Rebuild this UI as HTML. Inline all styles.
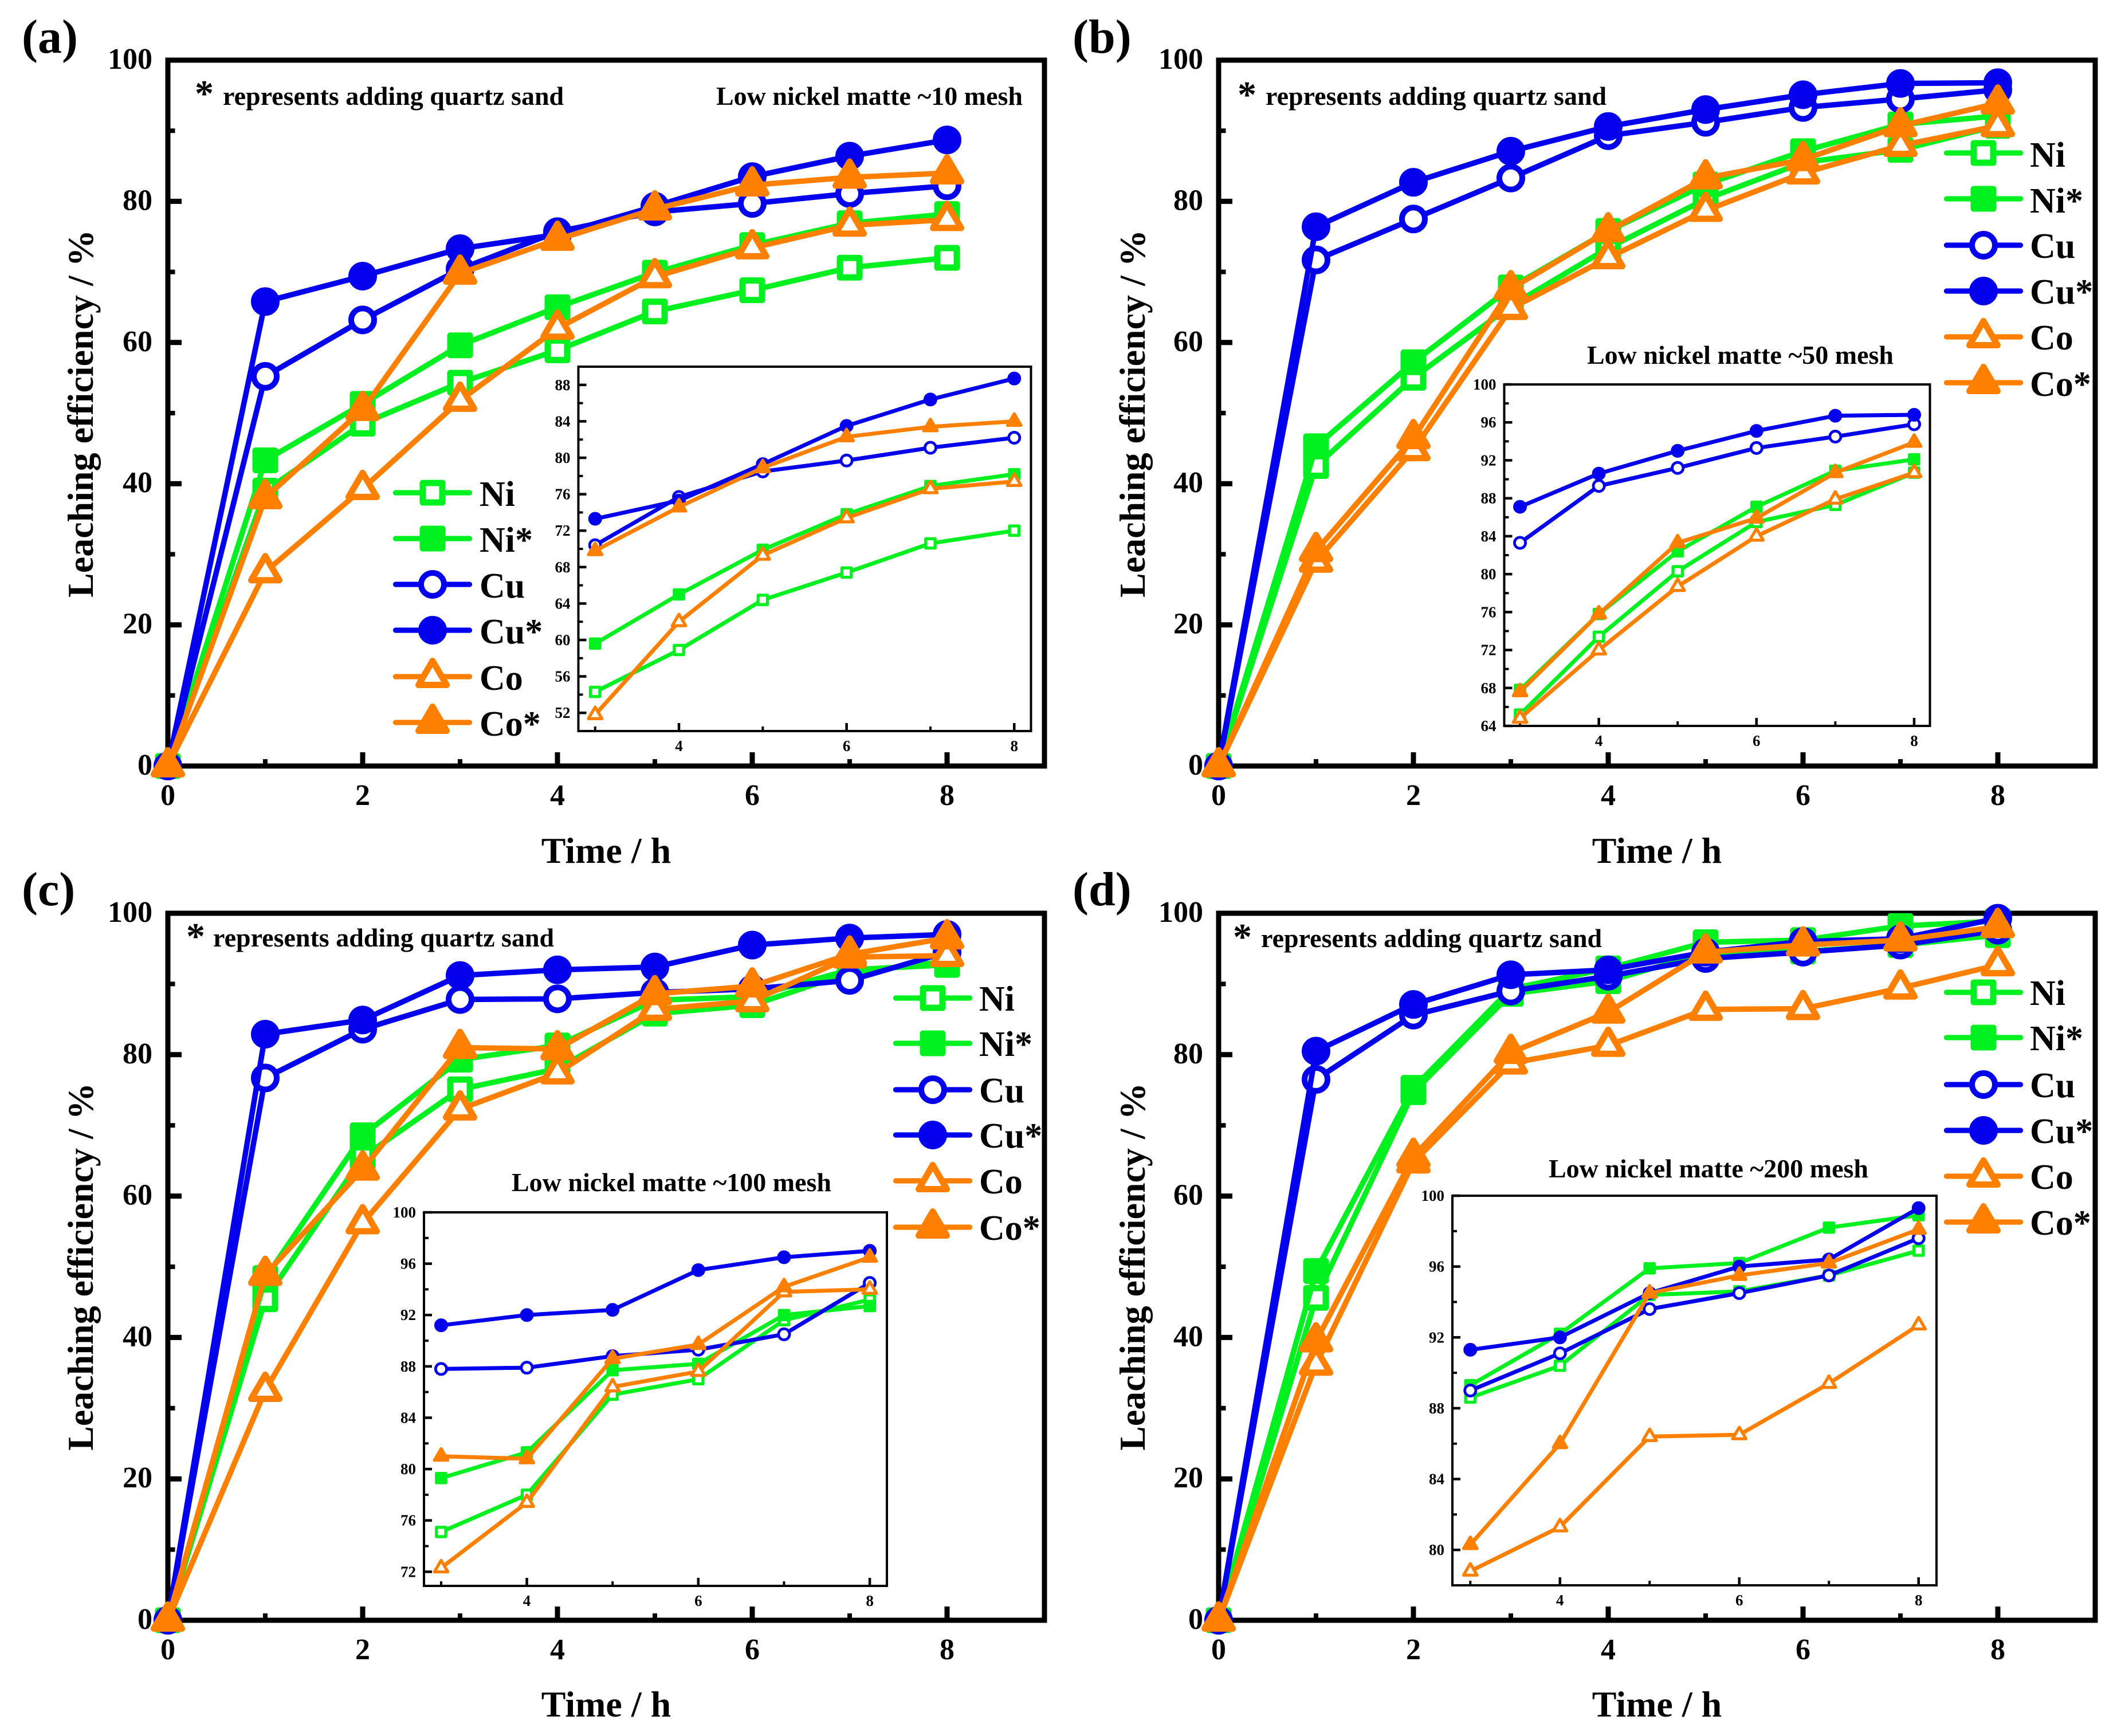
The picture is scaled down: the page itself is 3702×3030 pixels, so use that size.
<!DOCTYPE html>
<html lang="en">
<head>
<meta charset="utf-8">
<title>Leaching efficiency of low nickel matte</title>
<style>
html,body{margin:0;padding:0;background:#fff;}
svg{display:block;}
text{font-family:"Liberation Serif","DejaVu Serif",serif;font-weight:bold;fill:#000;}
.title{font-size:64px;}
.legend{font-size:62px;}
.note{font-size:46px;}
.star{font-size:66px;}
.letter{font-size:84px;}
</style>
</head>
<body>
<svg xmlns="http://www.w3.org/2000/svg" width="3702" height="3030" viewBox="0 0 3702 3030">
<rect x="0" y="0" width="3702" height="3030" fill="#fff"/>

<g id="panel-a">
<g id="plot-a"></g>
<text class="letter" x="38" y="92">(a)</text>
<text class="title" x="1058" y="1506" text-anchor="middle">Time / h</text>
<text class="title" x="162" y="722" text-anchor="middle" transform="rotate(-90 162 722)">Leaching efficiency / %</text>
<text class="star" x="340" y="185">*</text>
<text class="note" x="389" y="183">represents adding quartz sand</text>
<text class="note" x="1250" y="183">Low nickel matte ~10 mesh</text>
<text class="legend" x="837" y="883">Ni</text>
<text class="legend" x="837" y="963">Ni*</text>
<text class="legend" x="837" y="1043">Cu</text>
<text class="legend" x="837" y="1123">Cu*</text>
<text class="legend" x="837" y="1204">Co</text>
<text class="legend" x="837" y="1284">Co*</text>
</g>

<g id="panel-b">
<g id="plot-b"></g>
<text class="letter" x="1872" y="92">(b)</text>
<text class="title" x="2892" y="1506" text-anchor="middle">Time / h</text>
<text class="title" x="1998" y="722" text-anchor="middle" transform="rotate(-90 1998 722)">Leaching efficiency / %</text>
<text class="star" x="2160" y="187">*</text>
<text class="note" x="2209" y="183">represents adding quartz sand</text>
<text class="note" x="2770" y="635">Low nickel matte ~50 mesh</text>
<text class="legend" x="3543" y="291">Ni</text>
<text class="legend" x="3543" y="371">Ni*</text>
<text class="legend" x="3543" y="450">Cu</text>
<text class="legend" x="3543" y="530">Cu*</text>
<text class="legend" x="3543" y="610">Co</text>
<text class="legend" x="3543" y="691">Co*</text>
</g>

<g id="panel-c">
<g id="plot-c"></g>
<text class="letter" x="38" y="1580">(c)</text>
<text class="title" x="1058" y="2996" text-anchor="middle">Time / h</text>
<text class="title" x="162" y="2211" text-anchor="middle" transform="rotate(-90 162 2211)">Leaching efficiency / %</text>
<text class="star" x="325" y="1656">*</text>
<text class="note" x="372" y="1652">represents adding quartz sand</text>
<text class="note" x="893" y="2079">Low nickel matte ~100 mesh</text>
<text class="legend" x="1709" y="1764">Ni</text>
<text class="legend" x="1709" y="1843">Ni*</text>
<text class="legend" x="1709" y="1924">Cu</text>
<text class="legend" x="1709" y="2003">Cu*</text>
<text class="legend" x="1709" y="2083">Co</text>
<text class="legend" x="1709" y="2164">Co*</text>
</g>

<g id="panel-d">
<g id="plot-d"></g>
<text class="letter" x="1872" y="1580">(d)</text>
<text class="title" x="2892" y="2996" text-anchor="middle">Time / h</text>
<text class="title" x="1998" y="2211" text-anchor="middle" transform="rotate(-90 1998 2211)">Leaching efficiency / %</text>
<text class="star" x="2152" y="1657">*</text>
<text class="note" x="2201" y="1653">represents adding quartz sand</text>
<text class="note" x="2703" y="2055">Low nickel matte ~200 mesh</text>
<text class="legend" x="3543" y="1754">Ni</text>
<text class="legend" x="3543" y="1833">Ni*</text>
<text class="legend" x="3543" y="1915">Cu</text>
<text class="legend" x="3543" y="1995">Cu*</text>
<text class="legend" x="3543" y="2075">Co</text>
<text class="legend" x="3543" y="2155">Co*</text>
</g>
</svg>

<script>
// ---- shared categories and tick labels ----
const hours = [0, 1, 2, 3, 4, 5, 6, 7, 8];
const mainXTickLabels = [0, 2, 4, 6, 8];
const mainYTickLabels = [0, 20, 40, 60, 80, 100];
const insetXTickLabels = [4, 6, 8];
const insetYTickLabelsA = [52, 56, 60, 64, 68, 72, 76, 80, 84, 88];
const insetYTickLabelsB = [64, 68, 72, 76, 80, 84, 88, 92, 96, 100];
const insetYTickLabelsC = [72, 76, 80, 84, 88, 92, 96, 100];
const insetYTickLabelsD = [80, 84, 88, 92, 96, 100];

// ---- panel (a) ~10 mesh ----
const niA     = [0, 39.0, 48.5, 54.3, 58.9, 64.4, 67.4, 70.6, 72.0];
const niStarA = [0, 43.3, 51.3, 59.6, 65.0, 69.9, 73.8, 76.9, 78.2];
const cuA     = [0, 55.2, 63.2, 70.4, 75.7, 78.5, 79.7, 81.1, 82.2];
const cuStarA = [0, 65.8, 69.4, 73.3, 75.3, 79.3, 83.5, 86.4, 88.7];
const coA     = [0, 27.5, 39.3, 51.8, 62.0, 69.3, 73.4, 76.6, 77.4];
const coStarA = [0, 38.0, 50.5, 69.8, 74.6, 78.9, 82.3, 83.4, 84.0];

// ---- panel (b) ~50 mesh ----
const niB     = [0, 42.5, 55.0, 65.2, 73.4, 80.3, 85.5, 87.3, 90.7];
const niStarB = [0, 45.3, 57.2, 67.8, 75.8, 82.4, 87.1, 90.9, 92.1];
const cuB     = [0, 71.7, 77.5, 83.3, 89.3, 91.2, 93.3, 94.5, 95.8];
const cuStarB = [0, 76.4, 82.7, 87.1, 90.6, 93.0, 95.1, 96.7, 96.8];
const coB     = [0, 29.0, 44.8, 64.8, 72.0, 78.7, 84.0, 87.9, 90.7];
const coStarB = [0, 30.5, 46.5, 67.6, 75.8, 83.3, 85.9, 90.7, 93.9];

// ---- panel (c) ~100 mesh ----
const niC     = [0, 45.4, 65.5, 75.1, 78.0, 85.8, 87.0, 91.6, 93.2];
const niStarC = [0, 48.4, 68.6, 79.3, 81.3, 87.7, 88.2, 92.0, 92.7];
const cuC     = [0, 76.7, 83.6, 87.8, 87.9, 88.8, 89.3, 90.5, 94.5];
const cuStarC = [0, 82.9, 84.9, 91.2, 92.0, 92.4, 95.5, 96.5, 97.0];
const coC     = [0, 32.5, 56.2, 72.3, 77.4, 86.4, 87.6, 93.8, 94.0];
const coStarC = [0, 48.9, 63.8, 81.0, 80.8, 88.6, 89.7, 94.2, 96.5];

// ---- panel (d) ~200 mesh ----
const niD     = [0, 45.6, 74.7, 88.6, 90.4, 94.4, 94.6, 95.5, 96.9];
const niStarD = [0, 49.4, 75.3, 89.3, 92.2, 95.9, 96.2, 98.2, 98.9];
const cuD     = [0, 76.5, 85.6, 89.0, 91.1, 93.6, 94.5, 95.5, 97.6];
const cuStarD = [0, 80.5, 87.1, 91.3, 92.0, 94.5, 96.0, 96.4, 99.3];
const coD     = [0, 36.2, 64.8, 78.8, 81.3, 86.4, 86.5, 89.4, 92.7];
const coStarD = [0, 39.5, 65.6, 80.3, 86.0, 94.5, 95.5, 96.2, 98.1];

const GREEN = '#00f020';
const BLUE = '#0400ee';
const ORANGE = '#ff8000';
const NS = 'http://www.w3.org/2000/svg';

const styleNames = ['ni', 'ni-star', 'cu', 'cu-star', 'co', 'co-star'];
const styleColors = [GREEN, GREEN, BLUE, BLUE, ORANGE, ORANGE];
const styleKinds = ['square', 'square', 'circle', 'circle', 'triangle', 'triangle'];
const styleFilled = [false, true, false, true, false, true];

const panels = [
  { id: 'a', series: [niA, niStarA, cuA, cuStarA, coA, coStarA],
    box: { l: 293, r: 1823, t: 105, b: 1337 },
    inset: { l: 1009.5, r: 1799.5, t: 640, b: 1276, yMin: 50, yMax: 90, ticks: insetYTickLabelsA },
    legend: { x1: 686, x2: 824, xm: 755, rows: [860, 940, 1020, 1100, 1181, 1261] } },
  { id: 'b', series: [niB, niStarB, cuB, cuStarB, coB, coStarB],
    box: { l: 2127, r: 3657, t: 105, b: 1337 },
    inset: { l: 2625.5, r: 3368.5, t: 671, b: 1267, yMin: 64, yMax: 100, ticks: insetYTickLabelsB },
    legend: { x1: 3393, x2: 3531, xm: 3462, rows: [267, 347, 428, 508, 588, 668] } },
  { id: 'c', series: [niC, niStarC, cuC, cuStarC, coC, coStarC],
    box: { l: 293, r: 1823, t: 1594, b: 2828 },
    inset: { l: 740, r: 1548, t: 2116, b: 2768, yMin: 70.9, yMax: 100, ticks: insetYTickLabelsC },
    legend: { x1: 1559, x2: 1697, xm: 1628, rows: [1742, 1821, 1902, 1981, 2061, 2142] } },
  { id: 'd', series: [niD, niStarD, cuD, cuStarD, coD, coStarD],
    box: { l: 2127, r: 3657, t: 1594, b: 2828 },
    inset: { l: 2535, r: 3380, t: 2087, b: 2767, yMin: 78, yMax: 100, ticks: insetYTickLabelsD },
    legend: { x1: 3393, x2: 3531, xm: 3462, rows: [1732, 1811, 1893, 1973, 2053, 2133] } }
];

function make(tag, attrs, parent) {
  const el = document.createElementNS(NS, tag);
  for (const k in attrs) el.setAttribute(k, attrs[k]);
  parent.appendChild(el);
  return el;
}

function scale(d0, d1, r0, r1) {
  return function (v) { return r0 + (v - d0) * (r1 - r0) / (d1 - d0); };
}

function drawMarker(parent, kind, cx, cy, k, color, filled, name) {
  const fill = filled ? color : '#fff';
  let el;
  let sw;
  if (kind === 'square') {
    const s = 34 * k;
    sw = 11 * k;
    el = make('rect', { x: cx - s / 2, y: cy - s / 2, width: s, height: s }, parent);
  } else if (kind === 'circle') {
    sw = 10 * k;
    el = make('circle', { cx: cx, cy: cy, r: 20 * k }, parent);
  } else {
    const w = 49 * k, top = 27.5 * k, bot = 14.5 * k;
    sw = 11 * k;
    const pts = (cx) + ',' + (cy - top) + ' ' + (cx + w / 2) + ',' + (cy + bot) + ' ' + (cx - w / 2) + ',' + (cy + bot);
    el = make('polygon', { points: pts }, parent);
  }
  el.setAttribute('fill', fill);
  el.setAttribute('stroke', color);
  el.setAttribute('stroke-width', sw);
  el.setAttribute('stroke-linejoin', 'round');
  
  
}

function drawSeries(parent, xs, ys, xScale, yScale, idx, k, lineWidth, prefix) {
  const color = styleColors[idx];
  const pts = xs.map(function (x, i) { return xScale(x) + ',' + yScale(ys[i]); }).join(' ');
  const line = make('polyline', { points: pts, fill: 'none', stroke: color, 'stroke-width': lineWidth, 'stroke-linejoin': 'round', 'stroke-linecap': 'round' }, parent);
  
  
  xs.forEach(function (x, i) {
    drawMarker(parent, styleKinds[idx], xScale(x), yScale(ys[i]), k, color, styleFilled[idx], prefix + '-point-' + styleNames[idx]);
  });
}

function drawTick(parent, x1, y1, x2, y2, w, name) {
  const t = make('line', { x1: x1, y1: y1, x2: x2, y2: y2, stroke: '#000', 'stroke-width': w }, parent);
  
  
}

function drawLabel(parent, x, y, size, anchor, value, name) {
  const t = make('text', { x: x, y: y, 'font-size': size, 'text-anchor': anchor }, parent);
  t.textContent = value;
  
  
}

panels.forEach(function (p) {
  const root = document.getElementById('plot-' + p.id);
  const b = p.box;
  const x = scale(0, 9, b.l, b.r);
  const y = scale(0, 100, b.b, b.t);
  const prefix = 'panel-' + p.id;

  // main frame
  const frame = make('rect', { x: b.l, y: b.t, width: b.r - b.l, height: b.b - b.t, fill: 'none', stroke: '#000', 'stroke-width': 9 }, root);
  
  

  // main ticks
  for (let v = 1; v <= 8; v += 2) drawTick(root, x(v), b.b, x(v), b.b - 12, 8, prefix + '-x-minor-tick');
  mainXTickLabels.forEach(function (v) {
    drawTick(root, x(v), b.b, x(v), b.b - 24, 9, prefix + '-x-major-tick');
    drawLabel(root, x(v), b.b + 68, 52, 'middle', v, prefix + '-x-tick-label');
  });
  for (let v = 10; v <= 90; v += 20) drawTick(root, b.l, y(v), b.l + 12.5, y(v), 8, prefix + '-y-minor-tick');
  mainYTickLabels.forEach(function (v) {
    drawTick(root, b.l, y(v), b.l + 24, y(v), 9, prefix + '-y-major-tick');
    drawLabel(root, b.l - 27, y(v) + 15, 52, 'end', v, prefix + '-y-tick-label');
  });

  // main series
  p.series.forEach(function (vals, i) {
    drawSeries(root, hours, vals, x, y, i, 1, 9.5, prefix);
  });

  // legend keys
  p.legend.rows.forEach(function (rowY, i) {
    const key = make('line', { x1: p.legend.x1 + 4.5, y1: rowY, x2: p.legend.x2 - 4.5, y2: rowY, stroke: styleColors[i], 'stroke-width': 9.3, 'stroke-linecap': 'round' }, root);
    
    
    drawMarker(root, styleKinds[i], p.legend.xm, rowY, 1, styleColors[i], styleFilled[i], prefix + '-legend-marker-' + styleNames[i]);
  });

  // inset
  const n = p.inset;
  const ix = scale(2.8, 8.2, n.l, n.r);
  const iy = scale(n.yMin, n.yMax, n.b, n.t);
  const insetFrame = make('rect', { x: n.l, y: n.t, width: n.r - n.l, height: n.b - n.t, fill: 'none', stroke: '#000', 'stroke-width': 4 }, root);
  
  
  for (let v = 3; v <= 7; v += 2) drawTick(root, ix(v), n.b, ix(v), n.b - 8, 4, prefix + '-inset-x-minor-tick');
  insetXTickLabels.forEach(function (v) {
    drawTick(root, ix(v), n.b, ix(v), n.b - 14, 4.5, prefix + '-inset-x-major-tick');
    drawLabel(root, ix(v), n.b + 35, 27, 'middle', v, prefix + '-inset-x-tick-label');
  });
  n.ticks.forEach(function (v) {
    drawTick(root, n.l, iy(v), n.l + 14, iy(v), 4.5, prefix + '-inset-y-major-tick');
    if (v + 2 < n.yMax) drawTick(root, n.l, iy(v + 2), n.l + 8, iy(v + 2), 4, prefix + '-inset-y-minor-tick');
    drawLabel(root, n.l - 14, iy(v) + 9, 27, 'end', v, prefix + '-inset-y-tick-label');
  });
  const insetHours = hours.slice(3);
  p.series.forEach(function (vals, i) {
    drawSeries(root, insetHours, vals.slice(3), ix, iy, i, 0.48, 7, prefix + '-inset');
  });
});
</script>
</body>
</html>
